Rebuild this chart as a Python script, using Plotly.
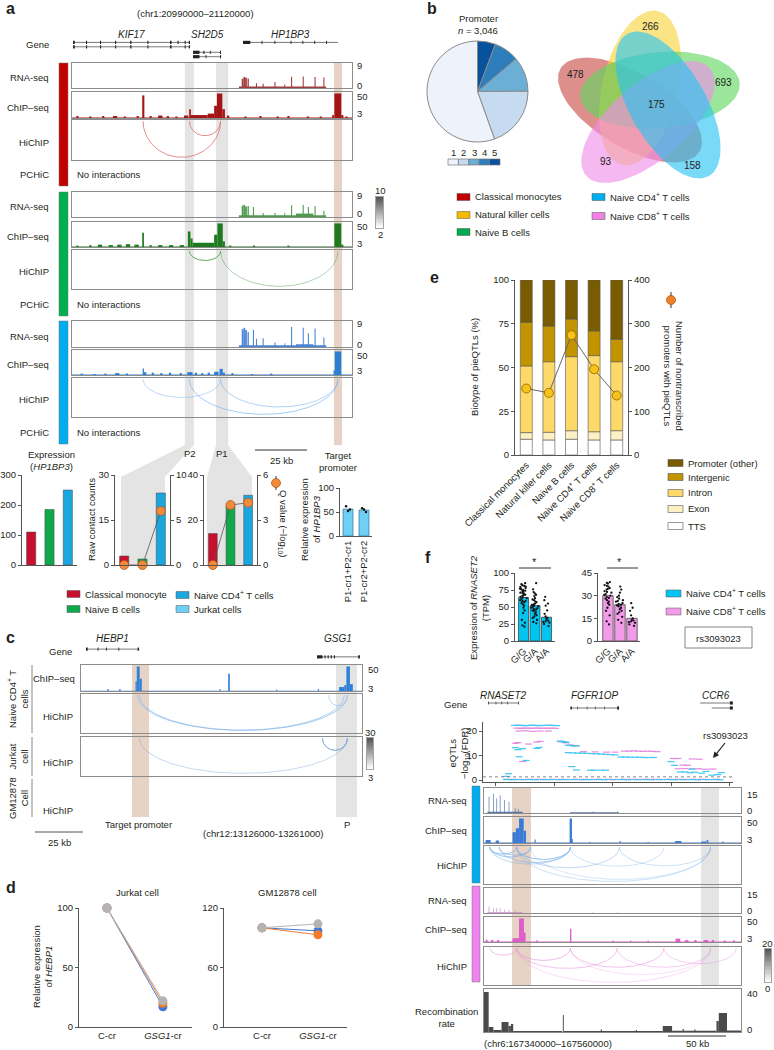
import numpy as np
import plotly.graph_objects as go

W, H = 774, 1050
FONT = "Liberation Sans, Arial, Helvetica, sans-serif"
TXT = "#231f20"
AX = "#555555"
BOX = "#8c8c8c"
FS = 9.5
TF = dict(size=FS, color=TXT, family=FONT)

# ============================ DATA ============================
# ---- panel a : chr1:20990000-21120000, positions in kb from 20,990,000
a_span = [0, 130]
a_gray_regions = [(52.4, 56.6), (66.9, 72.5)]
a_target_regions = [(121.6, 125.4)]
a_gene_rows = [("KIF17", 0.5, 54.8, 0), ("KIF17", 0.5, 54.8, 1),
               ("SH2D5", 56.2, 69.2, 2.25), ("SH2D5", 56.2, 69.2, 3.25),
               ("HP1BP3", 79.4, 123.5, 0)]
a_exons = [(0.5, 1.3, 0), (6.5, 7, 0), (13, 13.5, 0), (20, 20.5, 0), (27, 27.6, 0), (35, 35.5, 0),
           (45.5, 46.2, 0), (49, 49.5, 0), (52.3, 52.8, 0), (54.2, 54.8, 0),
           (0.5, 1.3, 1), (6.5, 7, 1), (13, 13.5, 1), (20, 20.5, 1), (27, 27.6, 1), (35, 35.5, 1),
           (45.5, 46.2, 1), (52.3, 52.8, 1), (54.2, 54.8, 1),
           (56.2, 59.2, 2.25), (61, 61.5, 2.25), (64, 64.4, 2.25), (68.7, 69.2, 2.25),
           (56.2, 59.2, 3.25), (62, 62.4, 3.25), (68.7, 69.2, 3.25),
           (79.4, 82.8, 0), (88, 88.4, 0), (94, 94.4, 0), (101.5, 101.9, 0), (107, 107.4, 0),
           (112.5, 112.9, 0), (118, 118.4, 0)]
# bedGraph-like (start kb, end kb, value)
a_mono_rna = [(77.5, 118, 0.6), (78.8, 79.6, 3.5), (79.6, 80.4, 4.2), (80.4, 81.2, 3.9), (81.5, 82.1, 3.6),
              (85.4, 85.9, 1.8), (88.5, 89, 1.6), (94, 94.5, 2.3), (98.6, 99, 1.4), (101.7, 102.2, 4.3),
              (107.1, 107.6, 4.4), (112.6, 113.1, 4.2), (116.7, 117.2, 4.0)]
a_b_rna = [(77.5, 118, 0.7), (104, 112, 1.3), (78.8, 79.6, 4.3), (79.6, 80.4, 4.6), (80.4, 81.2, 4.0),
           (81.5, 82.1, 4.2), (84, 84.5, 3.8), (88.5, 89, 1.5), (94, 94.5, 1.5), (98.6, 99, 1.6),
           (101.7, 102.2, 4.5), (107.1, 107.6, 4.6), (109.5, 110, 3.8), (112.6, 113.1, 4.2), (116.7, 117.2, 2.4)]
a_cd4_rna = [(77.5, 118, 0.6), (104, 112, 1.0), (78.8, 79.6, 6.5), (79.6, 80.4, 7.0), (80.4, 81.2, 6.2),
             (81.5, 82.1, 5.5), (84, 84.5, 6.3), (85.4, 85.9, 3.0), (88.5, 89, 3.2), (94, 94.5, 1.6),
             (98.6, 99, 1.4), (101.7, 102.2, 7.3), (107.1, 107.6, 7.0), (109.5, 110, 5.0),
             (112.6, 113.1, 6.8), (116.7, 117.2, 3.5)]
a_mono_chip = [(0, 130, 1.2), (2, 3, 4), (8, 9, 3), (14, 15, 4), (19, 21, 4), (24, 25, 3), (30, 31, 4),
               (32.6, 33.6, 46), (36, 37, 4), (40, 42, 5), (44, 45, 4), (48, 49, 3), (52, 54, 5),
               (54.4, 55.2, 18), (55.2, 63, 6), (63, 66, 9), (66, 67.3, 25), (67.3, 69.8, 50),
               (69.8, 71, 18), (72, 73, 5), (80, 81, 3), (87, 88, 4), (95, 96, 3), (100, 101, 4),
               (109, 110, 3), (115, 116, 3), (120.8, 121.6, 6), (121.8, 125, 50), (125, 126, 6), (127, 128, 3)]
a_b_chip = [(0, 130, 1.2), (2, 3, 3), (8, 9, 4), (12, 14, 5), (17, 19, 4), (21, 23, 5), (25, 27, 6),
            (29, 31, 5), (32.6, 33.4, 30), (36, 37, 4), (40, 42, 4), (45, 47, 4), (50, 52, 4),
            (53.8, 55, 33), (55, 56, 18), (56, 66, 9), (66, 67.5, 26), (67.5, 70, 50), (70, 71, 12),
            (73, 74, 3), (84, 85, 3), (100, 101, 3), (121.8, 125, 50), (125, 126, 5)]
a_cd4_chip = [(0, 130, 1.0), (4, 5, 3), (10, 11, 2), (15, 16, 3), (20, 22, 4), (25, 26, 3),
              (32.8, 33.4, 14), (33.4, 34.5, 6), (37, 38, 5), (41, 42, 4), (45, 46, 5), (50, 51, 4),
              (53.5, 56, 6), (57, 58, 5), (60, 61, 4), (63, 64, 5), (66, 68, 7), (68.5, 70, 13),
              (70, 71, 5), (74, 75, 4), (83, 84, 2), (92, 93, 3), (121.4, 122, 10), (122, 125, 50)]
# loops: (anchor1 kb, anchor2 kb, strength)
a_mono_loops = [(33, 69, 0.8), (54.5, 69, 0.8)]
a_b_loops = [(54.5, 69, 0.9), (69, 123.5, 0.45)]
a_cd4_loops = [(33, 69, 0.5), (69, 123.5, 0.6), (54.5, 123.5, 0.7)]
a_cbar = [2, 10]

a_bar_cells = ["Classical monocyte", "Naive B cells", "Naive CD4+ T cells"]
a_expr_hp1bp3 = [110, 185, 250]
a_p2_counts = [3, 2, 24]
a_p2_q = [0, 0, 6.0]
a_p1_counts = [14, 26.5, 31]
a_p1_q = [0, 4.0, 4.15]
a_cr_labels = ["P1-cr1+P2-cr1", "P1-cr2+P2-cr2"]
a_cr_mean = [56, 54]
a_cr_reps = [[62, 52, 55], [58, 55, 50]]

# ---- panel b
b_pie_classes = ["1", "2", "3", "4", "5"]
b_pie_counts = [1690, 597, 338, 246, 175]
b_sets = ["Classical monocytes", "Natural killer cells", "Naive B cells",
          "Naive CD4<sup>+</sup> T cells", "Naive CD8<sup>+</sup> T cells"]
b_unique = [478, 266, 693, 158, 93]
b_common = 175

# ---- panel e
e_cells = ["Classical monocytes", "Natural killer cells", "Naive B cells",
           "Naive CD4<sup>+</sup> T cells", "Naive CD8<sup>+</sup> T cells"]
e_biotypes = ["TTS", "Exon", "Intron", "Intergenic", "Promoter (other)"]
e_tts = [9.0, 8.6, 9.0, 8.6, 8.6]
e_exon = [3.8, 4.4, 4.9, 4.7, 5.3]
e_intron = [38.1, 40.3, 42.3, 43.5, 39.4]
e_intergenic = [24.9, 20.4, 21.5, 14.1, 12.8]
e_promoter = [24.2, 26.3, 22.3, 29.1, 33.9]
e_n_promoters = [152, 142, 274, 196, 136]

# ---- panel f
f_genotypes = ["G/G", "G/A", "A/A"]
f_cd4_mean = [64, 52, 35]
f_cd8_mean = [30, 24, 15]
f_cd4_gg = [85, 83.5, 82, 81, 80, 79.5, 78, 77, 76.5, 75, 74, 73.5, 72, 71, 70.5, 69, 68, 67, 66.5, 65,
            64, 63, 61.5, 60, 59, 58.5, 57, 56, 54, 52, 49, 45, 41, 31, 27, 23, 21]
f_cd4_ga = [85, 76, 72, 70, 68, 66, 63, 61, 60, 58, 57, 55, 54, 53, 52, 51, 50, 49, 48, 47, 46, 45,
            44, 42, 40, 38, 36, 34, 31, 28, 26]
f_cd4_aa = [65, 60, 55, 52, 45, 40, 36, 34, 32, 30, 29, 28, 27, 25, 22]
f_cd8_gg = [39, 38.5, 38, 37, 36.5, 36, 35, 34.5, 34, 33, 32.5, 32, 31, 30.5, 30, 29, 28.5, 28, 27,
            26, 25, 24, 22, 20, 17, 13, 11]
f_cd8_ga = [36, 34, 32, 30, 29, 28, 27, 26.5, 26, 25, 24.5, 24, 23.5, 23, 22, 21, 20, 19, 18, 16, 14, 12]
f_cd8_aa = [25, 22, 20, 17, 15, 14, 13.5, 13, 12.5, 12, 11, 10]

# chr6:167340000-167560000, kb from 167,340,000
f_span = [0, 220]
f_brown_regions = [(24, 40.2)]
f_gray_regions = [(185.8, 201.2)]
f_gene_rows = [("RNASET2", 3.4, 30, 0), ("FGFR1OP", 73.6, 115.6, 1), ("CCR6", 185, 213, 0), ("CCR6", 195, 213, 1)]
f_exons = [(3.4, 4, 0), (10, 10.5, 0), (15, 15.5, 0), (20, 20.5, 0), (29.4, 30, 0),
           (74, 75.2, 1), (80, 80.5, 1), (88, 88.5, 1), (95, 95.5, 1), (103, 103.5, 1), (114, 115.6, 1),
           (210.5, 213, 0), (210.5, 213, 1)]
f_eqtl_ticks = [10, 60, 110, 160, 210]
f_eqtl_fdr_line = 1.3
f_eqtl_cd4 = [(26, 22.3), (29, 22.4), (32, 22.3), (35, 22.2), (38, 22.3), (41, 22.4), (44, 22.3), (47, 22.2),
              (50, 22.3), (53, 22.3), (56, 22.4), (59, 22.3), (62, 22.2),
              (27, 13.2), (29, 12.4), (33, 12.8), (45, 12.9), (47, 13.3), (36, 8.0), (30, 9.5),
              (65, 15.9), (68, 15.7), (70, 15.4), (72, 14.2), (76, 14.0), (79, 13.9),
              (72, 11.2), (76, 11.1), (80, 11.0), (84, 11.0), (88, 10.9), (92, 10.8), (96, 10.7), (100, 10.6),
              (104, 10.5), (108, 10.4), (112, 10.3),
              (117, 9.4), (121, 9.4), (125, 9.3), (129, 9.3), (133, 9.3), (137, 9.2), (141, 9.2), (145, 9.2),
              (75, 5.5), (79, 4.1), (91, 4.0), (94, 4.0), (100, 4.0), (104, 4.0),
              (160, 7.5), (163, 6.0), (168, 3.3), (172, 3.3), (176, 3.0), (180, 3.2), (186, 2.8), (190, 3.5),
              (195, 2.0), (200, 2.2), (203, 3.0), (178, 4.5), (19, 1.5), (21, 2.6),
              (19, 0.2), (25, 0.1), (31, 0.2), (38, 0.2), (44, 0.1), (51, 0.2), (57, 0.2), (64, 0.1), (70, 0.2),
              (77, 0.2), (84, 0.1), (90, 0.2), (97, 0.2), (103, 0.1), (110, 0.2), (117, 0.2), (123, 0.1),
              (130, 0.2), (137, 0.2), (143, 0.1), (150, 0.2), (157, 0.2), (163, 0.1), (170, 0.2), (177, 0.2),
              (183, 0.1), (190, 0.2), (197, 0.2), (202, 0.1)]
f_eqtl_cd8 = [(28, 21.2), (31, 21.1), (34, 21.2), (37, 21.2), (40, 21.1), (43, 21.2), (46, 21.2), (49, 21.1),
              (52, 21.2), (55, 21.1), (58, 21.2), (61, 21.1), (30, 20.0), (36, 20.1), (42, 19.9), (48, 20.0),
              (55, 20.0), (27, 15.0), (29, 15.3), (45, 15.5), (48, 15.8), (38, 14.7), (33, 7.6),
              (66, 15.6), (70, 15.2), (74, 14.3), (78, 14.0),
              (120, 11.8), (124, 11.8), (128, 11.9), (132, 11.8), (136, 11.7), (140, 11.8), (144, 11.7),
              (148, 11.6), (85, 11.6), (95, 11.5), (105, 11.4), (112, 11.4),
              (162, 8.8), (166, 8.8), (178, 8.6), (184, 8.5), (170, 6.1), (174, 6.0), (166, 4.6), (172, 4.7),
              (178, 4.5), (184, 4.6), (190, 4.4), (196, 4.5),
              (20, 0.3), (26, 0.3), (33, 0.2), (39, 0.3), (46, 0.3), (52, 0.2), (59, 0.3), (66, 0.3), (72, 0.2),
              (79, 0.3), (86, 0.3), (92, 0.2), (99, 0.3), (106, 0.3), (112, 0.2), (119, 0.3), (126, 0.3),
              (132, 0.2), (139, 0.3), (146, 0.3), (152, 0.2), (159, 0.3), (166, 0.3), (172, 0.2), (179, 0.3),
              (186, 0.3), (192, 0.2), (199, 0.3)]
f_cd4_rna = [(3, 33, 0.8), (73.6, 115.6, 0.4), (4, 4.6, 10), (7.8, 8.4, 12), (10.6, 11.2, 9), (13.5, 14.1, 11),
             (17.2, 17.8, 8), (21.1, 21.7, 7), (26.4, 27, 3), (29, 29.6, 2.5), (93, 93.6, 1), (114, 114.6, 1)]
f_cd8_rna = [(3, 33, 0.4), (4, 4.6, 4), (7.8, 8.4, 3), (10.6, 11.2, 3), (13.5, 14.1, 3), (17.2, 17.8, 2),
             (21.1, 21.7, 2), (26.4, 27, 1.5), (93, 93.6, 0.5), (114, 114.6, 0.5)]
f_cd4_chip = [(0, 220, 0.8), (1.4, 5.7, 6), (10, 12.8, 5), (24.4, 27.3, 22), (27.3, 30, 30), (30, 34, 50),
              (34, 36, 25), (43.3, 44.2, 7), (73.3, 75.3, 50), (75.3, 76, 8), (116, 117, 4), (163.5, 169, 4),
              (186, 190, 3), (190.5, 192, 6), (204, 205, 3), (90, 91, 2), (140, 141, 2)]
f_cd8_chip = [(0, 220, 0.8), (1.4, 3, 5), (6, 8, 4), (11, 13, 4), (24.4, 30, 8), (30, 34.2, 50), (34.2, 35.6, 20),
              (45, 46, 4), (73.6, 74.8, 28), (110, 111, 3), (125, 126, 3), (140, 141, 3), (164, 168, 7),
              (172, 175, 4), (180, 182, 4), (188, 192, 4), (195, 197, 4), (205, 207, 3), (213, 215, 3)]
f_cd4_loops = [(5, 28, 0.8), (5, 40, 0.7), (13, 40, 0.6), (28, 74, 0.8), (5, 74, 0.5), (13, 74, 0.6),
               (28, 116, 0.5), (28, 194, 0.4), (40, 194, 0.3), (74, 154, 0.35), (116, 194, 0.4)]
f_cd8_loops = [(5, 28, 0.6), (28, 74, 0.7), (28, 114, 0.6), (74, 154, 0.6), (114, 194, 0.5),
               (28, 194, 0.35), (154, 216, 0.45), (74, 194, 0.3)]
f_recomb = [(0, 4, 40), (4, 8, 5), (8, 15, 2), (15, 21, 10), (21, 23, 6), (23, 25, 8), (25, 67, 1),
            (67.5, 68.3, 17), (68.3, 153, 1), (100, 101, 2.5), (130, 131, 2), (153, 161, 6), (161, 199, 1.2),
            (170, 171, 3), (180, 181, 2.5), (199, 201, 11), (201, 208, 19), (208, 220, 1.5)]
f_cbar = [0, 20]

# ---- panel c : chr12:13126000-13261000, kb from 13,126,000
c_span = [0, 135]
c_brown_regions = [(24.5, 32.7)]
c_gray_regions = [(122.5, 132.6)]
c_gene_rows = [("HEBP1", 2.4, 27.9, 0), ("GSG1", 113.4, 134, 1.5)]
c_exons = [(2.4, 3.2, 0), (8, 8.4, 0), (12, 12.4, 0), (18, 18.4, 0), (27.2, 27.9, 0),
           (113.4, 116, 1.5), (117, 117.5, 1.5), (118.5, 119, 1.5), (120, 120.5, 1.5), (121.5, 122, 1.5),
           (133.2, 134, 1.5)]
c_cd4_chip = [(0, 135, 0.6), (12.7, 13.3, 4), (18.4, 19, 4), (26.2, 26.8, 20), (26.8, 28.2, 50), (28.2, 29.2, 25),
              (66.5, 67, 4), (70.7, 71.5, 35), (93.8, 94.3, 3), (113.8, 114.3, 4), (124, 126.5, 8),
              (126.5, 127.5, 12), (127.5, 129.2, 50), (129.2, 130.6, 14)]
c_cd4_loops = [(28, 128, 0.8), (27, 126.5, 0.6), (119, 128, 0.6)]
c_jurkat_loops = [(28, 128, 0.35), (116, 128, 0.9)]
c_cbar = [3, 30]

# ---- panel d
d_conditions = ["C-cr", "<i>GSG1</i>-cr"]
d_jurkat = [[100, 17], [100, 20], [100, 22]]
d_gm12878 = [[100, 97], [100, 93], [100, 104]]
d_rep_colors = ["#3b78d8", "#f27c2c", "#b4b4b4"]

# ============================ HELPERS ============================
fig = go.Figure()
AXES, ANN, SHAPES = {}, [], []
_cnt = [0]


def axes(x0, y0, x1, y1, xr=None, yr=None, box=False, xkw=None, ykw=None, lw=1.2):
    _cnt[0] += 1
    s = '' if _cnt[0] == 1 else str(_cnt[0])
    base = dict(showgrid=False, zeroline=False, showticklabels=False, ticks='', showline=False, fixedrange=True,
                automargin=False)
    xa = dict(base, domain=[x0 / W, x1 / W], anchor='y' + s)
    ya = dict(base, domain=[1 - y1 / H, 1 - y0 / H], anchor='x' + s)
    if xr is not None:
        xa['range'] = xr
    if yr is not None:
        ya['range'] = yr
    if box:
        for a in (xa, ya):
            a.update(showline=True, mirror=True, linecolor=BOX, linewidth=lw)
    if xkw:
        xa.update(xkw)
    if ykw:
        ya.update(ykw)
    AXES['xaxis' + s] = xa
    AXES['yaxis' + s] = ya
    return 'x' + s, 'y' + s


def right_y(xr, yr, rng, vals):
    _cnt[0] += 1
    s = str(_cnt[0])
    AXES['yaxis' + s] = dict(overlaying=yr, anchor=xr, side='right', range=rng, tickvals=vals,
                             showline=True, linecolor=AX, linewidth=1, ticks='outside', ticklen=3,
                             tickcolor=AX, tickfont=TF, showgrid=False, zeroline=False, fixedrange=True,
                             automargin=False)
    return 'y' + s


def num_axis(rng, vals, text=None):
    d = dict(range=rng, tickvals=vals, showline=True, linecolor=AX, linewidth=1, ticks='outside', ticklen=3,
             tickwidth=1, tickcolor=AX, showticklabels=True, tickfont=TF)
    if text is not None:
        d['ticktext'] = text
    return d


def T(x, y, s, size=FS, xa='center', ya='middle', ang=0, color=TXT):
    ANN.append(dict(x=x / W, y=1 - y / H, xref='paper', yref='paper', text=s, showarrow=False,
                    xanchor=xa, yanchor=ya, textangle=ang, font=dict(size=size, color=color, family=FONT)))


def R(x0, y0, x1, y1, fill, line=None, lw=0.7, layer='above'):
    SHAPES.append(dict(type='rect', xref='paper', yref='paper', x0=x0 / W, x1=x1 / W, y0=1 - y1 / H, y1=1 - y0 / H,
                       fillcolor=fill, line=dict(color=line if line else 'rgba(0,0,0,0)', width=lw if line else 0),
                       layer=layer))


def Ln(x0, y0, x1, y1, color=AX, w=1, dash='solid'):
    SHAPES.append(dict(type='line', xref='paper', yref='paper', x0=x0 / W, x1=x1 / W, y0=1 - y0 / H, y1=1 - y1 / H,
                       line=dict(color=color, width=w, dash=dash)))


def Circ(cx, cy, r, fill, line):
    SHAPES.append(dict(type='circle', xref='paper', yref='paper', x0=(cx - r) / W, x1=(cx + r) / W,
                       y0=1 - (cy + r) / H, y1=1 - (cy - r) / H, fillcolor=fill, line=dict(color=line, width=0.8)))


def Poly(pts, fill):
    path = 'M ' + ' L '.join(f'{x / W:.5f},{1 - y / H:.5f}' for x, y in pts) + ' Z'
    SHAPES.append(dict(type='path', xref='paper', yref='paper', path=path, fillcolor=fill,
                       line=dict(width=0), layer='below'))


def columns(xr, regions, y0, y1, color):
    for s, e in regions:
        SHAPES.append(dict(type='rect', xref=xr, yref='paper', x0=s, x1=e, y0=1 - y1 / H, y1=1 - y0 / H,
                           fillcolor=color, line=dict(width=0), layer='below'))


def signal(xr, yr, data, color, opacity=1.0):
    fig.add_trace(go.Bar(x=[(s + e) / 2 for s, e, v in data], y=[v for s, e, v in data],
                         width=[e - s for s, e, v in data], marker=dict(color=color, line=dict(width=0)),
                         opacity=opacity, xaxis=xr, yaxis=yr, showlegend=False, hoverinfo='skip'))


def arcs(xr, yr, loops, color, power=1.0, width=1.0):
    dmax = max(abs(e - s) for s, e, w in loops)
    t = np.linspace(0, np.pi, 90)
    for s, e, w in loops:
        depth = 0.93 * (abs(e - s) / dmax) ** power
        fig.add_trace(go.Scatter(x=(s + e) / 2 + (e - s) / 2 * np.cos(t), y=-depth * np.sin(t), mode='lines',
                                 line=dict(color=color, width=width), opacity=w, xaxis=xr, yaxis=yr,
                                 showlegend=False, hoverinfo='skip'))


def gene_track(xr, yr, rows, exons, name_y):
    xs, ys = [], []
    for n, s, e, r in rows:
        xs += [s, e, None]
        ys += [-r, -r, None]
    fig.add_trace(go.Scatter(x=xs, y=ys, mode='lines', line=dict(color='#555', width=0.8), xaxis=xr, yaxis=yr,
                             showlegend=False, hoverinfo='skip'))
    xs, ys = [], []
    for s, e, r in exons:
        xs += [s, e, None]
        ys += [-r, -r, None]
    fig.add_trace(go.Scatter(x=xs, y=ys, mode='lines', line=dict(color='#222', width=3.2), xaxis=xr, yaxis=yr,
                             showlegend=False, hoverinfo='skip'))
    seen = set()
    for n, s, e, r in rows:
        if n in seen:
            continue
        seen.add(n)
        ANN.append(dict(x=(s + e) / 2, xref=xr, y=1 - name_y / H, yref='paper', text='<i>' + n + '</i>',
                        showarrow=False, xanchor='center', yanchor='middle',
                        font=dict(size=10, color=TXT, family=FONT)))


def cbar(x0, y0, x1, y1, lims, dark):
    xr, yr = axes(x0, y0, x1, y1, box=True, lw=0.8)
    zs = np.linspace(lims[0], lims[1], 40)
    fig.add_trace(go.Heatmap(z=[[v] for v in zs], x=[0], y=zs, colorscale=[[0, '#ffffff'], [1, dark]],
                             showscale=False, xaxis=xr, yaxis=yr, hoverinfo='skip'))


# ============================ PANEL A ============================
T(4, 9, '<b>a</b>', size=16, xa='left')
T(195, 14, '(chr1:20990000–21120000)')
T(51, 45, 'Gene', xa='right')
gx, gy = axes(72, 38, 352, 60, xr=a_span, yr=[-4, 1])
gene_track(gx, gy, a_gene_rows, a_exons, 34)

cells_a = [
    dict(side='#c00000', rna_c='#8e1c1c', chip_c='#a31515', arc_c='#e07272',
         rna=a_mono_rna, chip=a_mono_chip, loops=a_mono_loops, y=(63, 88, 92, 118, 120, 160, 162, 187)),
    dict(side='#00b050', rna_c='#2f8a2f', chip_c='#1f7a1f', arc_c='#4e9e4e',
         rna=a_b_rna, chip=a_b_chip, loops=a_b_loops, y=(192, 217, 222, 247, 250, 289, 292, 317)),
    dict(side='#00aeef', rna_c='#2a6fcf', chip_c='#2a7fd4', arc_c='#7db5ee',
         rna=a_cd4_rna, chip=a_cd4_chip, loops=a_cd4_loops, y=(321, 347, 350, 375, 378, 417, 420, 445)),
]
for c in cells_a:
    y = c['y']
    R(59, y[0], 68, y[7] - 1, c['side'], line='#777', lw=0.5)
    xr, yr = axes(72, y[0], 352, y[1], xr=a_span, yr=[0, 9.5], box=True)
    signal(xr, yr, c['rna'], c['rna_c'], 0.85)
    xr, yr = axes(72, y[2], 352, y[3], xr=a_span, yr=[0, 53], box=True)
    signal(xr, yr, c['chip'], c['chip_c'])
    xr, yr = axes(72, y[4], 352, y[5], xr=a_span, yr=[-1, 0.03], box=True)
    arcs(xr, yr, c['loops'], c['arc_c'], power=1.0)
    axes(72, y[6], 352, y[7], xr=a_span, yr=[0, 1], box=True)
    T(75, (y[6] + y[7]) / 2, 'No interactions', xa='left')
    T(51, (y[0] + y[1]) / 2 + 2, 'RNA-seq', xa='right')
    T(51, (y[2] + y[3]) / 2 + 2, 'ChIP–seq', xa='right')
    T(51, (y[4] + y[5]) / 2 + 2, 'HiChIP', xa='right')
    T(51, (y[6] + y[7]) / 2, 'PCHiC', xa='right')
    T(355, y[0] + 3, '9', xa='left')
    T(355, y[1] - 3, '0', xa='left')
    T(355, y[2] + 5, '50', xa='left')
    T(355, y[3] - 4, '3', xa='left')

columns(gx, a_gray_regions, 63, 445, '#e4e4e4')
columns(gx, a_target_regions, 63, 445, '#e6d3c5')
cbar(376, 197, 383, 228, a_cbar, '#555555')
T(380, 190, str(a_cbar[1]))
T(380, 234, str(a_cbar[0]))

# funnels from P2 / P1 to bar charts
Poly([(185, 445), (194, 445), (165, 477), (165, 565), (121, 565), (121, 477)], '#e4e4e4')
Poly([(216, 445), (228, 445), (252, 477), (252, 565), (207, 565), (207, 477)], '#e4e4e4')
T(190, 453, 'P2')
T(222, 453, 'P1')
Ln(255, 450, 307, 450, color='#333', w=1.2)
T(281, 461, '25 kb')
T(338, 462, 'Target<br>promoter')

bar_cols_a = ['#c8102e', '#0fa84a', '#1aa7e0']
# chart 1
x1a, y1a = axes(22, 475, 77, 565, xr=[-0.5, 2.5], xkw=dict(showline=True, linecolor=AX),
                ykw=num_axis([0, 300], [0, 100, 200, 300]))
fig.add_trace(go.Bar(x=[0, 1, 2], y=a_expr_hp1bp3, width=0.5, marker=dict(color=bar_cols_a, line=dict(color='#444', width=0.5)),
                     xaxis=x1a, yaxis=y1a, showlegend=False, hoverinfo='skip'))
T(51, 461, 'Expression<br>(<i>HP1BP3</i>)')
# chart 2
x2a, y2a = axes(115, 475, 170, 565, xr=[-0.5, 2.5], xkw=dict(showline=True, linecolor=AX),
                ykw=num_axis([0, 30], [0, 15, 30]))
fig.add_trace(go.Bar(x=[0, 1, 2], y=a_p2_counts, width=0.5, marker=dict(color=bar_cols_a, line=dict(color='#444', width=0.5)),
                     xaxis=x2a, yaxis=y2a, showlegend=False, hoverinfo='skip'))
y2r = right_y(x2a, y2a, [0, 10], [0, 5, 10])
fig.add_trace(go.Scatter(x=[0, 1, 2], y=a_p2_q, mode='lines+markers', line=dict(color='#555', width=0.8),
                         marker=dict(size=9, color='#f08a3c', line=dict(color='#b55a1a', width=0.8)),
                         cliponaxis=False, xaxis=x2a, yaxis=y2r, showlegend=False, hoverinfo='skip'))
T(91, 520, 'Raw contact counts', ang=-90)
# chart 3
x3a, y3a = axes(204, 475, 257, 565, xr=[-0.5, 2.5], xkw=dict(showline=True, linecolor=AX),
                ykw=num_axis([0, 40], [0, 20, 40]))
fig.add_trace(go.Bar(x=[0, 1, 2], y=a_p1_counts, width=0.5, marker=dict(color=bar_cols_a, line=dict(color='#444', width=0.5)),
                     xaxis=x3a, yaxis=y3a, showlegend=False, hoverinfo='skip'))
y3r = right_y(x3a, y3a, [0, 6], [0, 3, 6])
fig.add_trace(go.Scatter(x=[0, 1, 2], y=a_p1_q, mode='lines+markers', line=dict(color='#555', width=0.8),
                         marker=dict(size=9, color='#f08a3c', line=dict(color='#b55a1a', width=0.8)),
                         cliponaxis=False, xaxis=x3a, yaxis=y3r, showlegend=False, hoverinfo='skip'))
Ln(276, 476, 276, 490, color='#333', w=1)
Circ(276, 483, 4.5, '#f08a3c', '#b55a1a')
T(283, 523, 'Q value (−log<sub>10</sub>)', ang=90)
# chart 4
x4a, y4a = axes(340, 488, 372, 536, xr=[-0.5, 1.5],
                xkw=dict(showline=True, linecolor=AX, showticklabels=True, tickvals=[0, 1], ticktext=a_cr_labels,
                         tickangle=-90, tickfont=TF),
                ykw=num_axis([0, 100], [0, 50, 100]))
fig.add_trace(go.Bar(x=[0, 1], y=a_cr_mean, width=0.62, marker=dict(color='#6fd0f6', line=dict(color='#2b6f9a', width=0.7)),
                     xaxis=x4a, yaxis=y4a, showlegend=False, hoverinfo='skip'))
for i, reps in enumerate(a_cr_reps):
    fig.add_trace(go.Scatter(x=[i - 0.12, i, i + 0.12], y=reps, mode='markers', marker=dict(size=2.5, color='#111'),
                             xaxis=x4a, yaxis=y4a, showlegend=False, hoverinfo='skip'))
T(310, 520, 'Relative expression<br>of <i>HP1BP3</i>', ang=-90)
# legend a
leg_a = [(67, 594, bar_cols_a[0], 'Classical monocyte'), (67, 609, bar_cols_a[1], 'Naive B cells'),
         (176, 595, bar_cols_a[2], 'Naive CD4<sup>+</sup> T cells'), (176, 609, '#6fd0f6', 'Jurkat cells')]
for lx, ly, col, lab in leg_a:
    R(lx, ly - 3.5, lx + 13, ly + 3.5, col, line='#555', lw=0.5)
    T(lx + 16, ly, lab, xa='left')

# ============================ PANEL B ============================
T(425, 9, '<b>b</b>', size=16, xa='left')
T(478, 19, 'Promoter')
T(478, 31, '<i>n</i> = 3,046')
pie_cols = ['#eef3fb', '#c6dbef', '#6baed6', '#2f7ebc', '#08519c']
fig.add_trace(go.Pie(values=b_pie_counts[::-1], labels=b_pie_classes[::-1], sort=False, direction='clockwise',
                     rotation=0, marker=dict(colors=pie_cols[::-1], line=dict(color='#8a8a8a', width=1)),
                     textinfo='none', hoverinfo='skip', showlegend=False,
                     domain=dict(x=[427 / W, 528 / W], y=[1 - 142 / H, 1 - 41 / H])))
for i, cl in enumerate(b_pie_classes):
    bx = 448 + i * 10.4
    R(bx, 159, bx + 10.4, 165, pie_cols[i], line='#777', lw=0.7)
    T(bx + 5.2, 152, cl)

vx, vy = axes(540, 0, 752, 185, xr=[540, 752], yr=[185, 0])
venn_geom = [  # cx, cy, semi-major, semi-minor, angle(deg), color
    (630, 110, 81, 37, 31, '#c84a46'),
    (640, 88, 79, 38, -77, '#f7d43c'),
    (660, 90, 80, 38, -5, '#5dd65d'),
    (648, 122, 82, 38, -41, '#ef8ce8'),
    (668, 105, 82, 38, 60, '#27c4f4'),
]
tt = np.linspace(0, 2 * np.pi, 120)
for cx, cy, a, b, ang, col in venn_geom:
    th = np.radians(ang)
    ex = cx + a * np.cos(tt) * np.cos(th) - b * np.sin(tt) * np.sin(th)
    ey = cy + a * np.cos(tt) * np.sin(th) + b * np.sin(tt) * np.cos(th)
    fig.add_trace(go.Scatter(x=ex, y=ey, mode='lines', fill='toself', fillcolor=col, opacity=0.62,
                             line=dict(width=0), xaxis=vx, yaxis=vy, showlegend=False, hoverinfo='skip'))
venn_label_px = [(575, 75), (650, 27), (723, 83), (692, 165), (606, 162)]
for (lx, ly), n in zip(venn_label_px, b_unique):
    T(lx, ly, str(n), size=10)
T(656, 105, str(b_common), size=10)
b_leg_cols = ['#c00000', '#f7b800', '#00a94f', '#00aeef', '#f080e8']
b_leg_pos = [(457, 197), (457, 215), (457, 232), (592, 197), (592, 216)]
for (lx, ly), col, lab in zip(b_leg_pos, b_leg_cols, b_sets):
    R(lx, ly - 3.5, lx + 13, ly + 3.5, col, line='#555', lw=0.5)
    T(lx + 16, ly, lab, xa='left')

# ============================ PANEL E ============================
T(428, 277, '<b>e</b>', size=16, xa='left')
xe, ye = axes(515, 280, 628, 455, xr=[-0.5, 4.5],
              xkw=dict(showline=True, linecolor=AX, showticklabels=True, tickvals=list(range(5)), ticktext=e_cells,
                       tickangle=-45, tickfont=TF),
              ykw=num_axis([0, 100], [0, 25, 50, 75, 100]))
e_layers = [e_tts, e_exon, e_intron, e_intergenic, e_promoter]
e_cols = ['#ffffff', '#fdf0c4', '#fdd96a', '#c29400', '#7a5c00']
base = np.zeros(5)
for vals, col in zip(e_layers, e_cols):
    fig.add_trace(go.Bar(x=list(range(5)), y=vals, base=base.copy(), width=0.53,
                         marker=dict(color=col, line=dict(color='#555', width=0.6)),
                         xaxis=xe, yaxis=ye, showlegend=False, hoverinfo='skip'))
    base = base + np.array(vals)
yer = right_y(xe, ye, [0, 400], [0, 100, 200, 300, 400])
fig.add_trace(go.Scatter(x=list(range(5)), y=e_n_promoters, mode='lines+markers', line=dict(color='#666', width=1),
                         marker=dict(size=9, color='#f7c21b', line=dict(color='#8a6500', width=0.8)),
                         xaxis=xe, yaxis=yer, showlegend=False, hoverinfo='skip'))
T(474, 367, 'Biotype of pieQTLs (%)', ang=-90)
T(673, 376, 'Number of nontranscribed<br>promoters with pieQTLs', ang=90)
Ln(671, 292, 671, 308, color='#333', w=1)
Circ(671, 300, 4.5, '#f07f2a', '#b55a1a')
e_leg_y = [463, 477, 493, 509, 526]
for ly, col, lab in zip(e_leg_y, e_cols[::-1], e_biotypes[::-1]):
    R(668, ly - 3.5, 683, ly + 3.5, col, line='#555', lw=0.6)
    T(686, ly, lab, xa='left')

# ============================ PANEL F ============================
T(423, 557, '<b>f</b>', size=16, xa='left')
gt_tick = dict(showline=True, linecolor=AX, showticklabels=True, tickvals=[0, 1, 2], ticktext=f_genotypes,
               tickangle=-45, tickfont=TF)
f_groups = [
    (515, 555, [-0.74, 2.74], [0, 100], [0, 25, 50, 75, 100], f_cd4_mean, [f_cd4_gg, f_cd4_ga, f_cd4_aa], '#00c5f0'),
    (598, 640, [-0.83, 2.67], [0, 45], [0, 15, 30, 45], f_cd8_mean, [f_cd8_gg, f_cd8_ga, f_cd8_aa], '#f29be9'),
]
for x0, x1, xrng, yrng, ytv, means, pts, col in f_groups:
    xf, yf = axes(x0, 573, x1, 641, xr=xrng, xkw=gt_tick, ykw=num_axis(yrng, ytv))
    fig.add_trace(go.Bar(x=[0, 1, 2], y=means, width=0.87, marker=dict(color=col, line=dict(color='#333', width=0.7)),
                         xaxis=xf, yaxis=yf, showlegend=False, hoverinfo='skip'))
    for i, p in enumerate(pts):
        fig.add_trace(go.Box(x=[i] * len(p), y=p, boxpoints='all', jitter=0.85, pointpos=0, width=0.8,
                             fillcolor='rgba(0,0,0,0)', line=dict(width=0, color='rgba(0,0,0,0)'),
                             marker=dict(size=2.3, color='#111'), xaxis=xf, yaxis=yf, showlegend=False,
                             hoverinfo='skip'))
Ln(519, 568, 551, 568, color='#333', w=1)
T(534, 562, '*', size=11)
Ln(607, 568, 638, 568, color='#333', w=1)
T(619, 562, '*', size=11)
T(479, 607, 'Expression of <i>RNASET2</i><br>(TPM)', ang=-90)
R(666, 590, 681, 597, '#00c5f0', line='#555', lw=0.5)
T(684, 593, 'Naive CD4<sup>+</sup> T cells', xa='left')
R(666, 608, 681, 615, '#f29be9', line='#555', lw=0.5)
T(684, 611, 'Naive CD8<sup>+</sup> T cells', xa='left')
R(685, 627, 752, 648, 'rgba(0,0,0,0)', line='#666', lw=0.8)
T(718, 638, 'rs3093023')

# genes
T(469, 704, 'Gene', xa='right')
fgx, fgy = axes(484, 698, 741, 713, xr=f_span, yr=[-2, 1])
gene_track(fgx, fgy, f_gene_rows, f_exons, 695)
# eQTL
xq, yq = axes(483, 722, 733, 782, xr=[-0.9, 213],
              xkw=dict(showline=True, linecolor=AX, ticks='outside', ticklen=3, tickcolor=AX, tickvals=f_eqtl_ticks),
              ykw=num_axis([-0.8, 23.7], [0, 10, 20]))
SHAPES.append(dict(type='line', xref=xq, yref=yq, x0=-0.9, x1=213, y0=f_eqtl_fdr_line, y1=f_eqtl_fdr_line,
                   line=dict(color='#666', width=0.8, dash='dot')))
for data, col in [(f_eqtl_cd8, '#e57ddc'), (f_eqtl_cd4, '#2cc3f0')]:
    fig.add_trace(go.Scatter(x=[p[0] for p in data], y=[p[1] for p in data], mode='markers',
                             marker=dict(symbol='line-ew', size=5, line=dict(color=col, width=1.2)),
                             opacity=0.9, xaxis=xq, yaxis=yq, showlegend=False, hoverinfo='skip'))
T(459, 754, 'eQTLs<br>−log<sub>10</sub>(FDR)', ang=-90)
ANN.append(dict(x=713 / W, y=1 - 758 / H, xref='paper', yref='paper', text='rs3093023', showarrow=True,
                arrowhead=2, arrowsize=1, arrowwidth=1.2, arrowcolor='#222', ax=12, ay=-15,
                font=dict(size=FS, color=TXT, family=FONT), xanchor='center', yanchor='bottom'))

cells_f = [
    dict(side='#00aeef', rna_c='#2b5a9a', chip_c='#3a7bd5', arc_c='#6ea8e8', rna=f_cd4_rna, chip=f_cd4_chip,
         loops=f_cd4_loops, y=(788, 813, 817, 843, 846, 884), bar=(786, 883)),
    dict(side='#ee82ee', rna_c='#c070c0', chip_c='#e05cc8', arc_c='#e88ee0', rna=f_cd8_rna, chip=f_cd8_chip,
         loops=f_cd8_loops, y=(888, 913, 917, 942, 947, 985), bar=(886, 982)),
]
for c in cells_f:
    y = c['y']
    R(472, c['bar'][0], 480, c['bar'][1], c['side'], line='#777', lw=0.5)
    xr, yr = axes(484, y[0], 741, y[1], xr=f_span, yr=[0, 15.5], box=True)
    signal(xr, yr, c['rna'], c['rna_c'], 0.8)
    xr, yr = axes(484, y[2], 741, y[3], xr=f_span, yr=[0, 53], box=True)
    signal(xr, yr, c['chip'], c['chip_c'])
    xr, yr = axes(484, y[4], 741, y[5], xr=f_span, yr=[-1, 0.03], box=True)
    arcs(xr, yr, c['loops'], c['arc_c'], power=0.8, width=0.9)
    T(469, (y[0] + y[1]) / 2, 'RNA-seq', xa='right')
    T(469, (y[2] + y[3]) / 2, 'ChIP–seq', xa='right')
    T(469, (y[4] + y[5]) / 2, 'HiChIP', xa='right')
    T(745, y[0] + 6, '15', xa='left')
    T(745, y[1] - 3, '0', xa='left')
    T(745, y[2] + 5, '50', xa='left')
    T(745, y[3] - 4, '3', xa='left')
xr_rec, yr_rec = axes(484, 989, 741, 1032, xr=f_span, yr=[0, 43], box=True)
signal(xr_rec, yr_rec, f_recomb, '#4a4a4a')
T(480, 1017, 'Recombination<br>rate', xa='right')
T(745, 993, '40', xa='left')
T(745, 1029, '0', xa='left')
columns(fgx, f_brown_regions, 788, 985, '#e6d3c5')
columns(fgx, f_gray_regions, 788, 985, '#e4e4e4')
cbar(765, 949, 771, 982, f_cbar, '#555555')
T(767, 943, str(f_cbar[1]))
T(767, 988, str(f_cbar[0]))
T(548, 1043, '(chr6:167340000–167560000)')
Ln(668, 1036, 726, 1036, color='#333', w=1.2)
T(697, 1043, '50 kb')

# ============================ PANEL C ============================
T(4, 637, '<b>c</b>', size=16, xa='left')
T(74, 651, 'Gene', xa='right')
cgx, cgy = axes(81, 644, 362, 662, xr=c_span, yr=[-2.5, 1])
gene_track(cgx, cgy, c_gene_rows, c_exons, 638)
xc, yc = axes(81, 665, 362, 691, xr=c_span, yr=[0, 53], box=True)
signal(xc, yc, c_cd4_chip, '#2f80d8')
T(77, 678, 'ChIP–seq', xa='right')
T(366, 669, '50', xa='left')
T(366, 688, '3', xa='left')
xc2, yc2 = axes(81, 694, 362, 733, xr=c_span, yr=[-1, 0.03], box=True)
arcs(xc2, yc2, c_cd4_loops, '#8bbcec', power=0.5)
xc3, yc3 = axes(81, 737, 362, 776, xr=c_span, yr=[-1, 0.03], box=True)
arcs(xc3, yc3, c_jurkat_loops, '#5f93d6', power=0.5)
axes(81, 778, 362, 817, xr=c_span, yr=[-1, 0.03], box=True)
T(75, 716, 'HiChIP', xa='right')
T(75, 762, 'HiChIP', xa='right')
T(75, 810, 'HiChIP', xa='right')
columns(cgx, c_brown_regions, 665, 817, '#e6d3c5')
columns(cgx, c_gray_regions, 665, 817, '#e4e4e4')
for yy0, yy1, lab in [(665, 733, 'Naive CD4<sup>+</sup> T<br>cells'), (737, 776, 'Jurkat<br>cell'),
                      (779, 817, 'GM12878<br>Cell')]:
    Ln(32, yy0, 32, yy1, color='#888', w=1)
    T(18, (yy0 + yy1) / 2, lab, ang=-90)
cbar(367, 738, 373, 769, c_cbar, '#555555')
T(370, 732, str(c_cbar[1]))
T(370, 777, str(c_cbar[0]))
T(138, 824, 'Target promoter')
T(347, 824, 'P')
T(263, 833, '(chr12:13126000-13261000)')
Ln(35, 832, 83, 832, color='#555', w=1.2)
T(59, 842, '25 kb')

# ============================ PANEL D ============================
T(4, 887, '<b>d</b>', size=16, xa='left')
d_axes = [(79, 192, [-0.5, 1.52], [0, 100], [0, 50, 100], d_jurkat, 'Jurkat cell'),
          (224, 347, [-0.68, 1.52], [0, 120], [0, 60, 120], d_gm12878, 'GM12878 cell')]
for x0, x1, xrng, yrng, ytv, reps, title in d_axes:
    xd, yd = axes(x0, 908, x1, 1027, xr=xrng,
                  xkw=dict(showline=True, linecolor=AX, showticklabels=True, tickvals=[0, 1], ticktext=d_conditions,
                           tickfont=TF),
                  ykw=num_axis(yrng, ytv))
    for vals, col in zip(reps, d_rep_colors):
        fig.add_trace(go.Scatter(x=[0, 1], y=vals, mode='lines+markers', line=dict(color=col, width=1),
                                 marker=dict(size=9, color=col), cliponaxis=False, xaxis=xd, yaxis=yd,
                                 showlegend=False, hoverinfo='skip'))
    T((x0 + x1) / 2 + 2, 892, title)
T(42, 967, 'Relative expression<br>of <i>HEBP1</i>', ang=-90)

# ============================ LAYOUT ============================
fig.update_layout(width=W, height=H, margin=dict(l=0, r=0, t=0, b=0, pad=0, autoexpand=False),
                  paper_bgcolor='white',
                  plot_bgcolor='rgba(0,0,0,0)', showlegend=False, barmode='overlay', boxmode='overlay',
                  font=dict(family=FONT, size=FS, color=TXT), annotations=ANN, shapes=SHAPES, **AXES)
fig.write_html("out.html", config={'displayModeBar': False, 'staticPlot': True},
               post_script="document.body.style.margin='0px';document.body.style.overflow='hidden';")
